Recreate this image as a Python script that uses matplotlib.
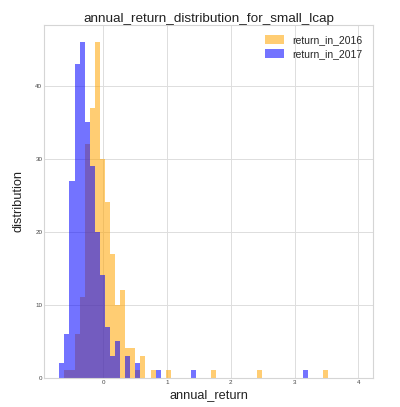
import numpy as np
import matplotlib
matplotlib.use('Agg')
import matplotlib.pyplot as plt

# shared histogram bins
binlo, binhi, nbins = -0.69, 4.0, 59

# counts per bin (bin index -> count), everything else is zero
counts2016 = {1: 1, 2: 1, 3: 6, 4: 11, 5: 32, 6: 37, 7: 46, 8: 30, 9: 24, 10: 17,
              11: 10, 12: 12, 13: 4, 14: 4, 15: 1, 16: 3, 18: 1, 21: 1, 30: 1,
              39: 1, 52: 1}
counts2017 = {0: 2, 1: 6, 2: 27, 3: 43, 4: 46, 5: 35, 6: 29, 7: 20, 8: 14, 9: 7,
              10: 3, 11: 5, 13: 3, 15: 2, 19: 1, 26: 1, 48: 1}

labels = ['return_in_2016', 'return_in_2017']
colors = ['orange', 'blue']

plt.style.use('seaborn-v0_8-whitegrid')
plt.rcParams['font.family'] = ['Liberation Sans', 'DejaVu Sans']

edges = np.linspace(binlo, binhi, nbins + 1)
centers = (edges[:-1] + edges[1:]) / 2

def asweights(d):
    w = np.zeros(nbins)
    for k, v in d.items(): w[k] = v
    return w

fig = plt.figure(figsize=(4.0, 4.07), dpi=100)
ax = fig.add_axes([0.111, 0.072, 0.822, 0.8666])
for cnts, lab, col in zip([counts2016, counts2017], labels, colors):
    ax.hist(centers, bins=edges, weights=asweights(cnts), color=col, alpha=0.55, label=lab)

ax.set_title('annual_return_distribution_for_small_lcap', fontsize=9.7, color='#222222', pad=2)
ax.set_xlabel('annual_return', fontsize=9.2, color='#222222', labelpad=3)
ax.set_ylabel('distribution', fontsize=9.2, color='#222222', labelpad=8)
ax.tick_params(labelsize=4.5, colors='#444444', pad=1.5)
ax.set_xticks([0, 1, 2, 3, 4])
ax.set_yticks([0, 10, 20, 30, 40])
ax.grid(True, color='#dddddd', linewidth=0.7)
for s in ax.spines.values():
    s.set_color('#d5d5d5')
    s.set_linewidth(0.8)
ax.legend(loc='upper right', fontsize=7.5, frameon=False, handlelength=1.9, handleheight=0.9,
          handletextpad=0.8, borderaxespad=0.6, labelspacing=0.35)

fig.savefig('out.png', dpi=100)
